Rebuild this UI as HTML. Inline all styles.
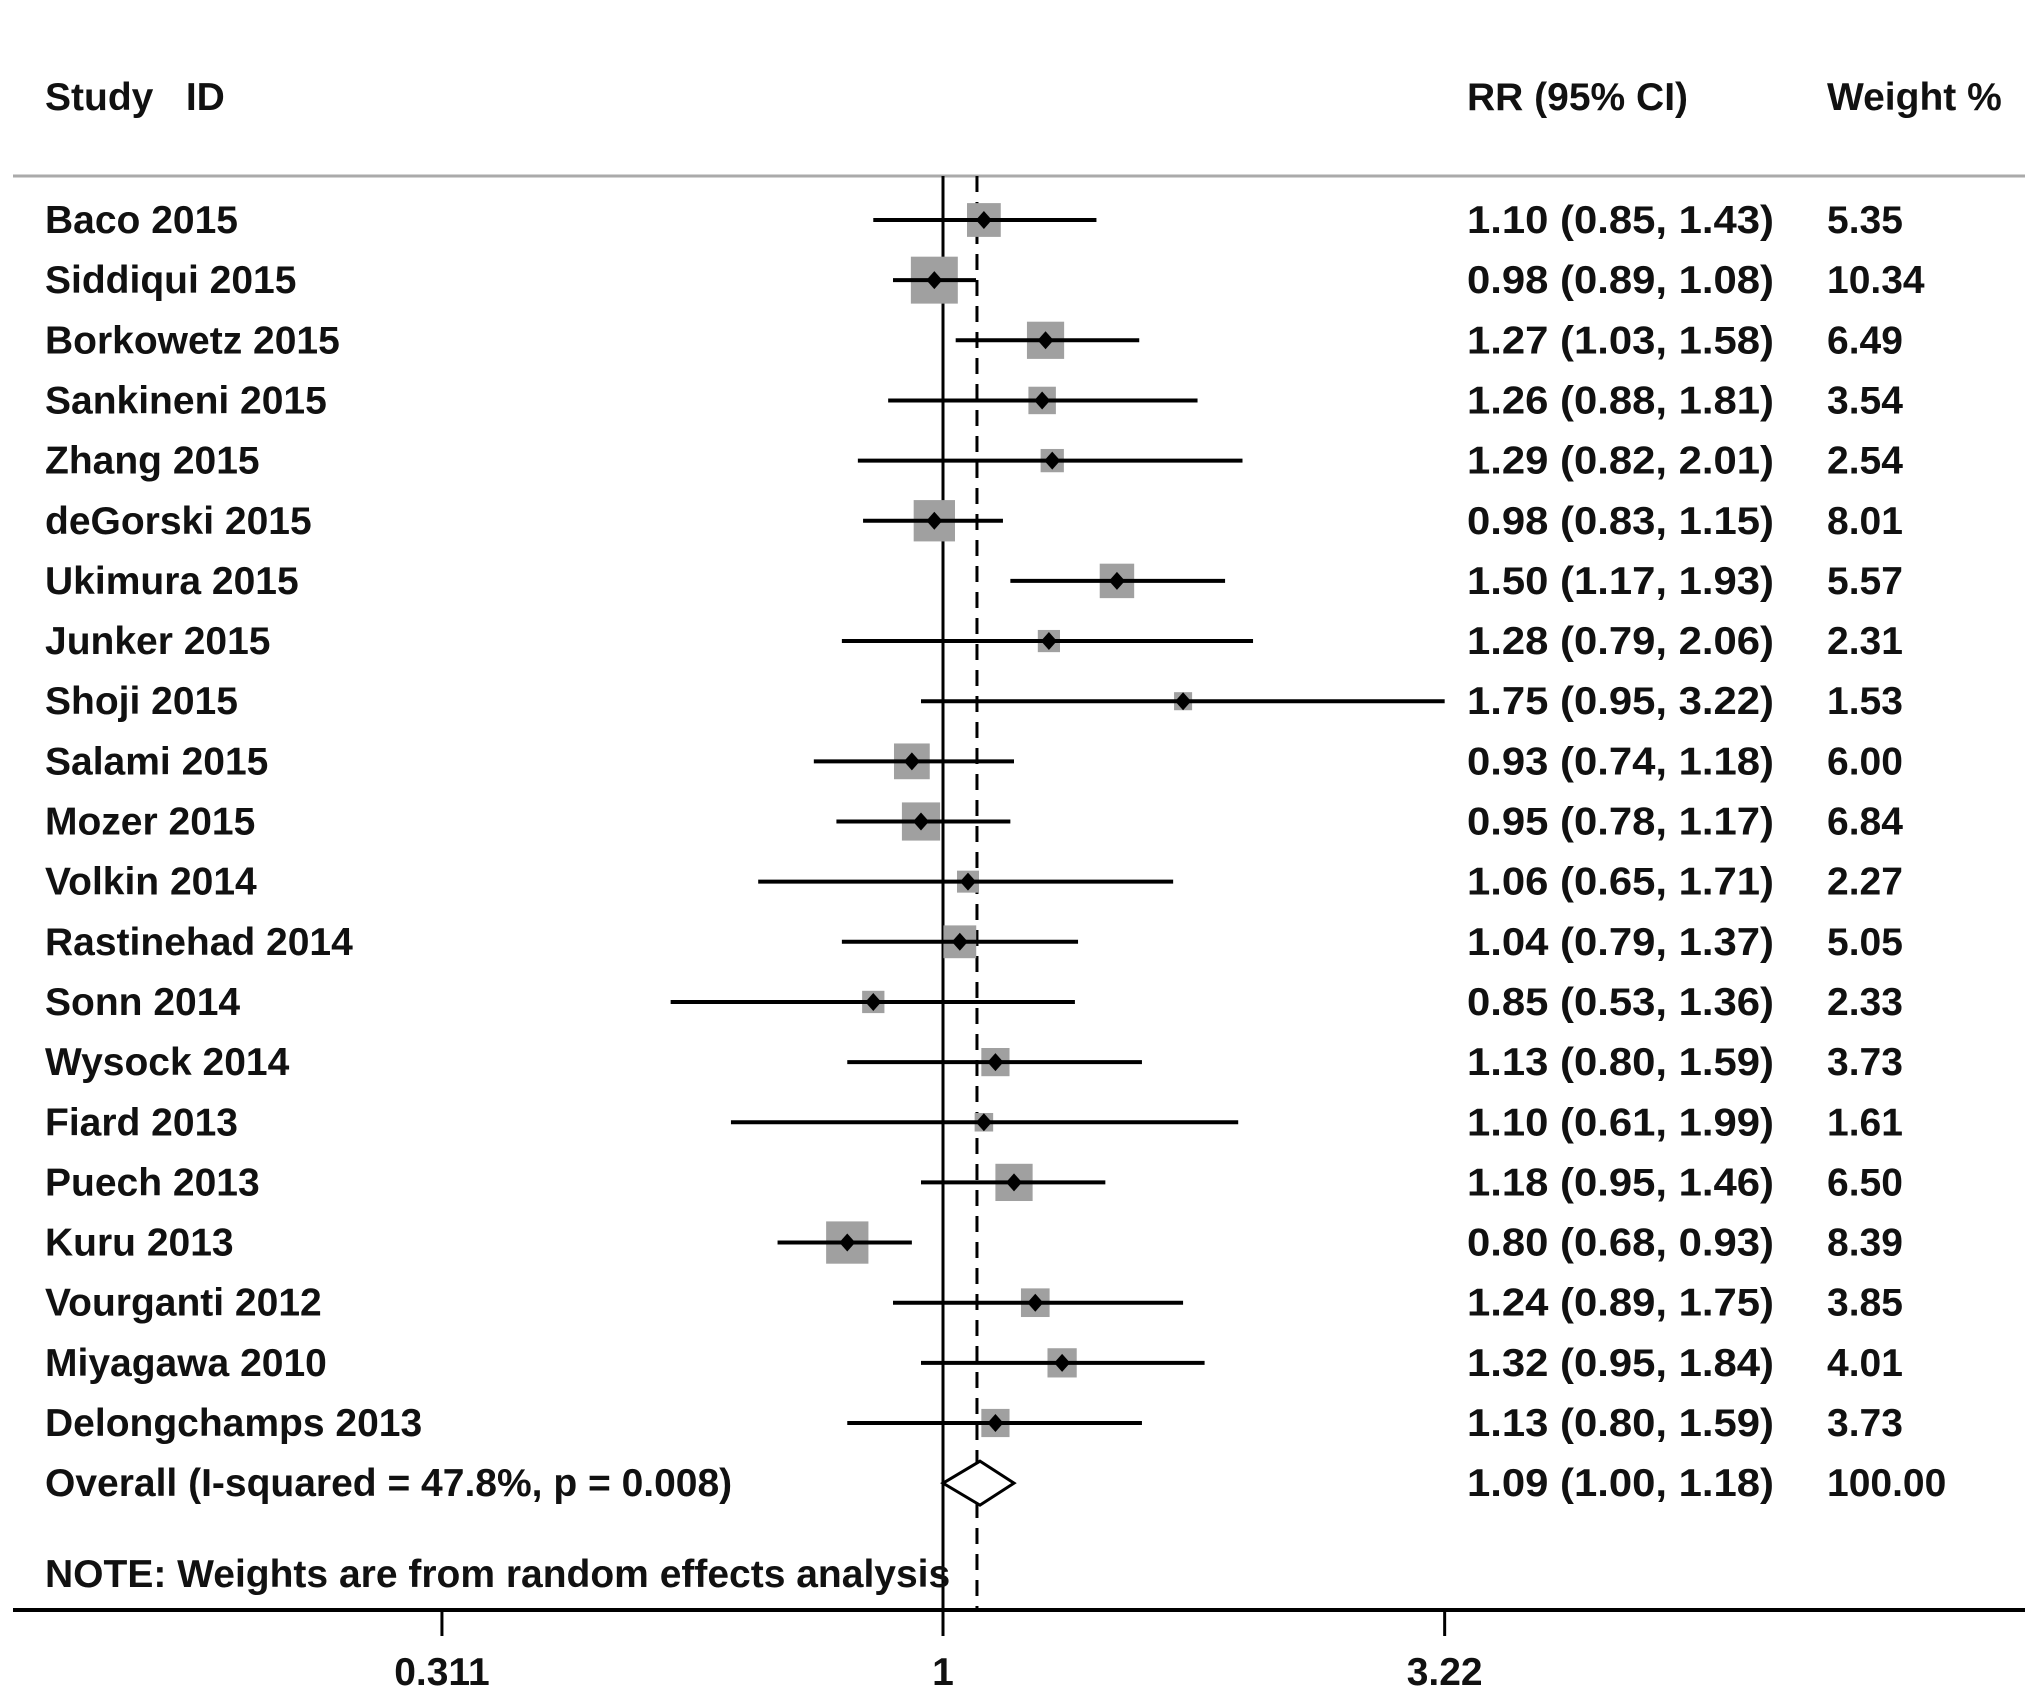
<!DOCTYPE html>
<html><head><meta charset="utf-8"><style>
html,body{margin:0;padding:0;background:#fff;}
svg{display:block;}
text{font-family:"Liberation Sans",Arial,sans-serif;font-size:39px;font-weight:bold;fill:#111;}
</style></head><body>
<svg id="chart" width="2031" height="1698" viewBox="0 0 2031 1698">
<text x="45" y="110">Study &#160; ID</text>
<text x="1467" y="110">RR (95% CI)</text>
<text x="1827" y="110">Weight %</text>
<line x1="13" y1="176" x2="2025" y2="176" stroke="#aaa" stroke-width="3"/>
<g id="plot"></g>
<text x="45" y="1587">NOTE: Weights are from random effects analysis</text>
</svg>
<script>
const studies=["Baco 2015","Siddiqui 2015","Borkowetz 2015","Sankineni 2015","Zhang 2015","deGorski 2015","Ukimura 2015","Junker 2015","Shoji 2015","Salami 2015","Mozer 2015","Volkin 2014","Rastinehad 2014","Sonn 2014","Wysock 2014","Fiard 2013","Puech 2013","Kuru 2013","Vourganti 2012","Miyagawa 2010","Delongchamps 2013"];
const rr=[1.10,0.98,1.27,1.26,1.29,0.98,1.50,1.28,1.75,0.93,0.95,1.06,1.04,0.85,1.13,1.10,1.18,0.80,1.24,1.32,1.13];
const lo=[0.85,0.89,1.03,0.88,0.82,0.83,1.17,0.79,0.95,0.74,0.78,0.65,0.79,0.53,0.80,0.61,0.95,0.68,0.89,0.95,0.80];
const hi=[1.43,1.08,1.58,1.81,2.01,1.15,1.93,2.06,3.22,1.18,1.17,1.71,1.37,1.36,1.59,1.99,1.46,0.93,1.75,1.84,1.59];
const weights=["5.35","10.34","6.49","3.54","2.54","8.01","5.57","2.31","1.53","6.00","6.84","2.27","5.05","2.33","3.73","1.61","6.50","8.39","3.85","4.01","3.73"];
const overall=[1.09,1.00,1.18];
const overallLabel="Overall  (I-squared = 47.8%, p = 0.008)";
const ticks=[0.311,1,3.22];
const tickLabels=["0.311","1","3.22"];

const NS="http://www.w3.org/2000/svg";
const g=document.getElementById('plot');
const X=v=>943+Math.log(v)*429;
const Y=i=>220+i*60.15;
function mk(t,a,p){const e=document.createElementNS(NS,t);for(const k in a)e.setAttribute(k,a[k]);(p||g).appendChild(e);return e;}
const fmt=v=>v.toFixed(2);
const axisY=1610;
let l=mk('line',{x1:X(1),y1:176,x2:X(1),y2:axisY,stroke:'#000','stroke-width':3});


l=mk('line',{x1:X(overall[0])-3,y1:176,x2:X(overall[0])-3,y2:axisY,stroke:'#000','stroke-width':3,'stroke-dasharray':'16,10'});


studies.forEach((s,i)=>{
  const y=Y(i);
  let t=mk('text',{x:45,y:y+13});t.textContent=s;
  
  
  const side=14.6*Math.sqrt(parseFloat(weights[i]));
  let b=mk('rect',{x:X(rr[i])-side/2,y:y-side/2,width:side,height:side,fill:'#a0a0a0'});
  
  
  let c=mk('line',{x1:X(lo[i]),y1:y,x2:X(hi[i]),y2:y,stroke:'#000','stroke-width':4});
  
  
  const cx=X(rr[i]);
  let d=mk('polygon',{points:`${cx-8},${y} ${cx},${y-9} ${cx+8},${y} ${cx},${y+9}`,fill:'#000'});
  
  
  t=mk('text',{x:1467,y:y+13,textLength:307,lengthAdjust:'spacingAndGlyphs'});t.textContent=`${fmt(rr[i])} (${fmt(lo[i])}, ${fmt(hi[i])})`;
  
  
  t=mk('text',{x:1827,y:y+13});t.textContent=weights[i];
  
  
});
const oy=Y(studies.length);
let t=mk('text',{x:45,y:oy+13});t.textContent=overallLabel;


let dm=mk('polygon',{points:`${X(overall[1])},${oy} ${X(overall[0])},${oy-22} ${X(overall[2])},${oy} ${X(overall[0])},${oy+22}`,fill:'#fff',stroke:'#000','stroke-width':3});


t=mk('text',{x:1467,y:oy+13,textLength:307,lengthAdjust:'spacingAndGlyphs'});t.textContent=`${fmt(overall[0])} (${fmt(overall[1])}, ${fmt(overall[2])})`;


t=mk('text',{x:1827,y:oy+13});t.textContent="100.00";


l=mk('line',{x1:13,y1:axisY,x2:2025,y2:axisY,stroke:'#000','stroke-width':4});


ticks.forEach((v,i)=>{
  let k=mk('line',{x1:X(v),y1:axisY,x2:X(v),y2:axisY+26,stroke:'#000','stroke-width':3});
  
  
  let tl=mk('text',{x:X(v),y:1685,'text-anchor':'middle'});tl.textContent=tickLabels[i];
  
  
});
</script>
</body></html>
